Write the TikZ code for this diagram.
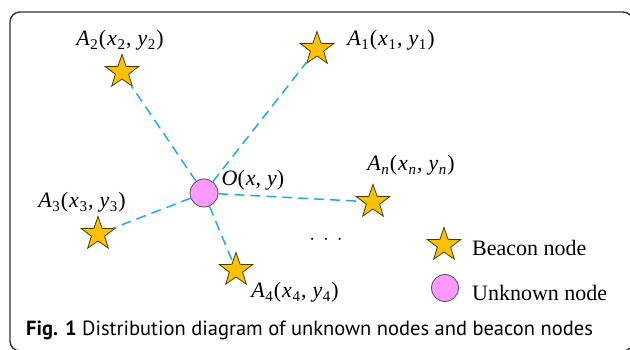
\documentclass[tikz,border=0pt]{standalone}
\usepackage{fontspec}
\setmainfont{Liberation Serif}
\newfontfamily\capfont{PT Sans}
\usepackage{tikz}
\usetikzlibrary{shapes.geometric}
\definecolor{starfill}{HTML}{FFC000}
\definecolor{stardraw}{HTML}{4A3C00}
\definecolor{unkfill}{HTML}{FF99FF}
\definecolor{unkdraw}{HTML}{505050}
\definecolor{linkblue}{HTML}{23AAE6}
\definecolor{framegray}{HTML}{333333}
\tikzstyle{bcn} = [star, star points=5, star point ratio=2.5, draw=stardraw, fill=starfill, line width=0.8pt, inner sep=0pt, minimum size=35pt]
\tikzstyle{unk} = [circle, draw=unkdraw, fill=unkfill, line width=0.8pt, inner sep=0pt, minimum size=28pt]
\tikzstyle{lbl} = [inner sep=0pt, font=\fontsize{22}{25}\selectfont]
\tikzstyle{link} = [draw=linkblue, line width=1.5pt, dash pattern=on 10pt off 6pt]
\newcommand{\lsub}[1]{\kern0.5pt\raisebox{-0.45ex}{\fontsize{15}{15}\selectfont #1}\kern1pt}
\newcommand{\bpos}[1]{\textit{A}\lsub{#1}(\kern1pt\textit{x}\lsub{#1},\kern6pt\textit{y}\lsub{#1})}

\begin{document}
\begin{tikzpicture}[x=1pt,y=-1pt]
		\useasboundingbox (0,0) rectangle (630,350);
		\begin{scope}
		\clip (0,0) rectangle (630,350);
		\draw[framegray, line width=1.4pt, rounded corners=10pt] (10,12) rectangle (633,351);
		\end{scope}
	%	unknown node and beacons
		\node[unk] (o) at (204,193) {};
		\node[bcn] (b1) at (317,49) {};
		\node[bcn] (b2) at (122,72) {};
		\node[bcn] (b3) at (98,234) {};
		\node[bcn] (b4) at (236,270) {};
		\node[bcn] (bn) at (373,202) {};
		\foreach \to in {b1,b2,b3,b4,bn}
		\draw[link] (o) -- (\to);
	%	labels
		\node[lbl] (lo) at (253,180) {\textit{O}(\kern1pt\textit{x},\kern6pt\textit{y})};
		\node[lbl] (l1) at (391,40) {\bpos{1}};
		\node[lbl] (l2) at (120,40) {\bpos{2}};
		\node[lbl] (l3) at (82,202) {\bpos{3}};
		\node[lbl] (l4) at (295,292) {\bpos{4}};
		\node[lbl] (ln) at (411,165) {\bpos{\textit{n}}};
		\node[lbl] (dots) at (326,240) {$\cdot\,\cdot\,\cdot$};
	%	legend
		\node[bcn] (kb) at (444,245) {};
		\node[lbl, anchor=west] (kbt) at (472,248) {Beacon node};
		\node[unk, minimum size=27pt] (ko) at (445,288) {};
		\node[lbl, anchor=west] (kot) at (472,293) {Unknown node};
	%	caption
		\node[anchor=west, inner sep=0pt, font=\capfont\fontsize{20.5}{24}\selectfont] (cap) at (26,330) {\textbf{Fig. 1} Distribution diagram of unknown nodes and beacon nodes};
	\end{tikzpicture}
\end{document}
